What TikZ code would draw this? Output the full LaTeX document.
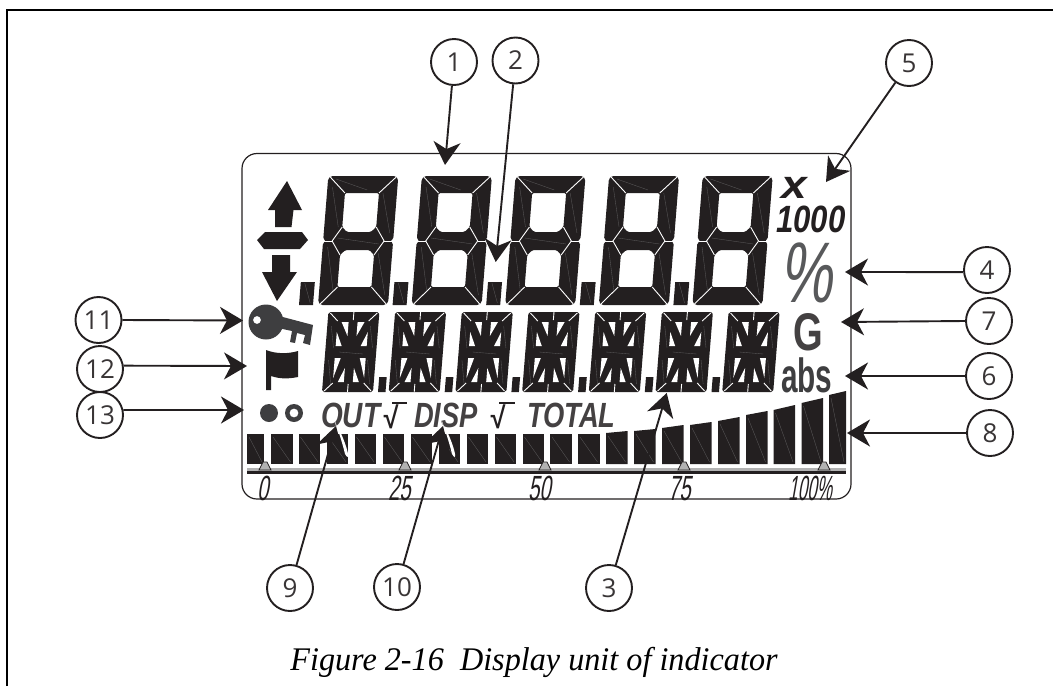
\documentclass[tikz,border=0pt]{standalone}
\usepackage{fontspec}
\usetikzlibrary{arrows.meta}
\setmainfont{Liberation Sans}
\newfontfamily\calloutfont{Open Sans}
\newfontfamily\captionfont{Liberation Serif}
\definecolor{lcdblack}{HTML}{231F20}
\definecolor{lcdgray}{HTML}{58595B}
\tikzset{
    callout/.style={draw=lcdblack, line width=1.9pt, circle, minimum size=46pt, inner sep=0pt,
        text=lcdblack!90, font=\calloutfont\fontsize{26}{26}\selectfont},
    pointer/.style={draw=lcdblack, line width=1.9pt,
        -{Stealth[length=23pt, width=27pt, inset=7pt]}},
    lcdlabel/.style={inner sep=0pt, anchor=base west, transform shape, text=lcdblack},
    scalelabel/.style={lcdlabel, xscale=.58, xslant=.3, font=\fontsize{35}{35}\selectfont},
    facet/.style={draw=gray!60!lcdblack, line width=.35pt},
    split/.style={draw=white, line width=.9pt}
}
\newcommand{\lcdDigit}[1]{%
    \begin{scope}[shift={(#1,305)}, xslant=.08]
    \fill[lcdblack, even odd rule, rounded corners=1.5pt]
        (3,-129) -- (67,-129) -- (70,-126) -- (70,-66) -- (67,-64) -- (70,-62) -- (70,-3) -- (67,0)
        -- (3,0) -- (0,-3) -- (0,-62) -- (3,-64) -- (0,-66) -- (0,-126) -- cycle
        (18,-112) -- (52,-112) -- (52,-78) -- (47,-73) -- (23,-73) -- (18,-78) -- cycle
        (18,-50) -- (23,-55) -- (47,-55) -- (52,-50) -- (52,-18) -- (18,-18) -- cycle;
    \draw[split] (2,-128) -- (18,-112);
    \draw[split] (68,-128) -- (52,-112);
    \draw[split] (2,-1) -- (18,-18);
    \draw[split] (68,-1) -- (52,-18);
    \draw[split] (18,-78) -- (9,-64) -- (18,-50);
    \draw[split] (52,-78) -- (61,-64) -- (52,-50);
    \draw[split] (0,-64) -- (9,-64);
    \draw[split] (61,-64) -- (70,-64);
    \draw[facet] (8,-126) -- (40,-115);
    \draw[facet] (5,-118) -- (14,-78);
    \draw[facet] (56,-112) -- (66,-72);
    \draw[facet] (14,-67) -- (56,-61);
    \draw[facet] (5,-58) -- (14,-14);
    \draw[facet] (56,-52) -- (66,-10);
    \fill[lcdblack] (-19,-23) rectangle (-5,0);
    \draw[facet] (-15,-22) -- (-8,-2);
    \end{scope}
}
\newcommand{\lcdChar}[1]{%
    \begin{scope}[shift={(#1,392)}, xslant=.08]
    \fill[lcdblack] (2,-80) -- (49,-80) -- (51,-78) -- (51,-2) -- (49,0) -- (2,0) -- (0,-2) -- (0,-78) -- cycle;
    \fill[white] (10,-60) -- (10,-46) -- (16,-46) -- cycle;
    \fill[white] (14,-70) -- (21,-70) -- (21,-56) -- cycle;
    \fill[white] (41,-60) -- (41,-46) -- (35,-46) -- cycle;
    \fill[white] (37,-70) -- (30,-70) -- (30,-56) -- cycle;
    \fill[white] (10,-34) -- (10,-14) -- (16,-34) -- cycle;
    \fill[white] (21,-24) -- (21,-10) -- (15,-10) -- cycle;
    \fill[white] (41,-34) -- (41,-14) -- (35,-34) -- cycle;
    \fill[white] (30,-24) -- (30,-10) -- (36,-10) -- cycle;
    \draw[split] (2,-79) -- (10,-71);
    \draw[split] (49,-79) -- (41,-71);
    \draw[split] (25.5,-80) -- (25.5,-72);
    \draw[split] (2,-1) -- (10,-9);
    \draw[split] (49,-1) -- (41,-9);
    \draw[split] (25.5,0) -- (25.5,-8);
    \draw[facet] (4,-66) -- (8,-44);
    \draw[facet] (43,-66) -- (47,-44);
    \draw[facet] (14,-40) -- (38,-38);
    \draw[facet] (4,-32) -- (8,-8);
    \draw[facet] (43,-32) -- (47,-8);
    \end{scope}
}
\newcommand{\lcdDot}[1]{%
    \begin{scope}[shift={(#1,392)}, xslant=.08]
    \fill[lcdblack] (0,-15) rectangle (7.5,0);
    \end{scope}
}
\newcommand{\lcdBar}[4]{%
    \fill[lcdblack] (#1,464) -- (#1,#3) -- (#1+#2,#4) -- (#1+#2,464) -- cycle;
    \draw[facet] (#1+2,#3+3) -- (#1+#2-2,462);
}
\newcommand{\lcdMark}[1]{%
    \filldraw[fill=gray!60, draw=lcdblack, line width=.8pt] (#1-6,470) -- (#1-2,462) -- (#1+2,462) -- (#1+6,470) -- cycle;
}
\newcommand{\tipGlint}[1]{%
    \fill[white] (#1) .. controls +(6,4) and +(9,14) .. +(9,28) .. controls +(-2,-10) and +(-5,-18) .. (#1);
}
\begin{document}
\begin{tikzpicture}[x=1pt, y=-1pt]
    \useasboundingbox (0,0) rectangle (1053,686);

    % --- page frame ---
    \draw[black, line width=2pt] (7,686) -- (7,10) -- (1053,10);

    % --- display outline ---
    \draw[lcdblack, line width=1.2pt, rounded corners=15pt] (242,153.5) rectangle (851,499);

    % --- big digits ---
    \lcdDigit{318}
    \lcdDigit{411.6}
    \lcdDigit{505.2}
    \lcdDigit{598.8}
    \lcdDigit{692.4}

    % --- alphanumeric row ---
    \lcdChar{322}
    \lcdChar{388.7}
    \lcdChar{455.4}
    \lcdChar{522.1}
    \lcdChar{588.8}
    \lcdChar{655.5}
    \lcdChar{722.2}
    \lcdDot{378}
    \lcdDot{444.7}
    \lcdDot{511.4}
    \lcdDot{578.1}
    \lcdDot{644.8}
    \lcdDot{711.5}

    % --- up, minus, down ---
    \fill[lcdblack] (287,181) -- (302,210) -- (293.5,210) -- (291.5,227) -- (275,227) -- (275,210) -- (268,210) -- cycle;
    \fill[lcdblack] (257,240) -- (265,232) -- (302,232) -- (308,240) -- (300,249) -- (264,249) -- cycle;
    \fill[lcdblack] (272,255) -- (290,255) -- (290,272) -- (297,272) -- (277,301) -- (262,272) -- (272,272) -- cycle;

    % --- key ---
    \fill[lcdgray!70!black, even odd rule] (266,322) circle (17.5) (257,320) circle (4);
    \fill[lcdgray!70!black] (279,316) -- (313,325) -- (310,345) -- (303,343) -- (305,335) -- (297,333) -- (295,343) -- (290,342) -- (292,331) -- (278,328) -- cycle;

    % --- flag ---
    \fill[lcdblack] (266,350) .. controls (276,354) and (288,354) .. (298,351) -- (298,377) .. controls (288,379) and (280,379) .. (271,376) -- (271,390) -- (266,390) -- cycle;

    % --- status dots ---
    \fill[lcdgray!70!black] (269,413) circle (9);
    \fill[lcdgray!70!black, even odd rule] (294,413) circle (9) (294,413) circle (4.5);

    % --- status words ---
    \node[lcdlabel, xscale=.8, text=lcdblack!85, font=\bfseries\itshape\fontsize{35}{35}\selectfont] (out) at (321,427) {OUT};
    \node[lcdlabel, xscale=.9, text=lcdblack, font=\bfseries\itshape\fontsize{30}{30}\selectfont] (rootA) at (382,428) {√};
    \draw[lcdblack, line width=2pt] (392,403) -- (407,403);
    \node[lcdlabel, xscale=.78, text=lcdblack!85, font=\bfseries\itshape\fontsize{35}{35}\selectfont] (disp) at (414,427) {DISP};
    \node[lcdlabel, xscale=.9, text=lcdblack, font=\bfseries\itshape\fontsize{30}{30}\selectfont] (rootB) at (489,428) {√};
    \draw[lcdblack, line width=2pt] (499,403) -- (515,403);
    \node[lcdlabel, xscale=.78, text=lcdblack!85, font=\bfseries\itshape\fontsize{35}{35}\selectfont] (total) at (527,427) {TOTAL};

    % --- multiplier and units ---
    \node[lcdlabel, xscale=1.15, font=\bfseries\itshape\fontsize{40}{40}\selectfont] (times) at (781,198) {x};
    \node[lcdlabel, xscale=.82, font=\bfseries\itshape\fontsize{38}{38}\selectfont] (kilo) at (776,232) {1000};
    \node[lcdlabel, xscale=.68, xslant=.2, text=lcdgray, font=\fontsize{86}{86}\selectfont] (percent) at (780,302) {\%};
    \node[lcdlabel, xscale=.72, text=lcdblack!85, font=\bfseries\fontsize{53}{53}\selectfont] (gauge) at (793,350) {G};
    \node[lcdlabel, xscale=.62, text=lcdgray!70!black, font=\bfseries\fontsize{48}{48}\selectfont] (abs) at (781,392) {abs};

    % --- bar graph ---
    \lcdBar{247}{17}{434}{434}
    \lcdBar{271}{21.5}{434}{434}
    \lcdBar{298.5}{21.5}{434}{434}
    \lcdBar{326.5}{21.5}{434}{434}
    \lcdBar{354.5}{21.5}{434}{434}
    \lcdBar{382.5}{21.5}{434}{434}
    \lcdBar{410.5}{21.5}{434}{434}
    \lcdBar{438.5}{21.5}{434}{434}
    \lcdBar{466.5}{21.5}{434}{434}
    \lcdBar{494.5}{21.5}{434}{434}
    \lcdBar{522.5}{21.5}{434}{434}
    \lcdBar{550}{21.5}{434}{434}
    \lcdBar{578}{21.5}{434}{434}
    \lcdBar{606}{21.5}{433}{431}
    \lcdBar{634}{21.5}{431}{429}
    \lcdBar{662}{21.5}{428}{425}
    \lcdBar{690}{21.5}{425}{422}
    \lcdBar{718}{21.5}{421}{417}
    \lcdBar{746}{21.5}{415}{411}
    \lcdBar{773.5}{21.5}{410}{405}
    \lcdBar{801.5}{21.5}{403}{398}
    \lcdBar{829}{17}{395}{391}

    % --- scale ---
    \fill[gray!60] (247,468) rectangle (846,471);
    \fill[lcdblack] (247,471) rectangle (846,473.5);
    \lcdMark{265}
    \lcdMark{405}
    \lcdMark{545}
    \lcdMark{684}
    \lcdMark{824}
    \node[scalelabel] (zero) at (257,500) {0};
    \node[scalelabel] (quarter) at (388,500) {25};
    \node[scalelabel] (half) at (528,500) {50};
    \node[scalelabel] (threeq) at (668,500) {75};
    \node[scalelabel, xscale=.84] (full) at (788,500) {100\%};

    % --- callouts ---
    \node[callout] (c1) at (454,62) {1};
    \node[callout] (c2) at (515.5,60.5) {2};
    \node[callout] (c3) at (609,588) {3};
    \node[callout] (c4) at (987,270) {4};
    \node[callout] (c5) at (909,63) {5};
    \node[callout] (c6) at (989,376) {6};
    \node[callout] (c7) at (989,321) {7};
    \node[callout] (c8) at (990,433) {8};
    \node[callout] (c9) at (290,588) {9};
    \node[callout] (c10) at (397,587) {10};
    \node[callout] (c11) at (98.5,320) {11};
    \node[callout] (c12) at (100,369) {12};
    \node[callout] (c13) at (100,415) {13};

    \coordinate (t1) at (445,165);
    \coordinate (t2) at (495.7,262);
    \coordinate (t3) at (666.7,393);
    \coordinate (t4) at (845,272);
    \coordinate (t5) at (826,182);
    \coordinate (t6) at (845,376);
    \coordinate (t7) at (841,322);
    \coordinate (t8) at (847,433);
    \coordinate (t9) at (336,426);
    \coordinate (t10) at (443,426);
    \coordinate (t11) at (243,320.5);
    \coordinate (t12) at (247,366);
    \coordinate (t13) at (244,410);

    \tipGlint{t9}
    \tipGlint{t10}

    \draw[pointer] (c1) -- (t1);
    \draw[pointer] (c2) -- (t2);
    \draw[pointer] (c3) -- (t3);
    \draw[pointer] (c4.185) -- (t4);
    \draw[pointer] (c5) -- (t5);
    \draw[pointer] (c6.west) -- (t6);
    \draw[pointer] (c7.west) -- (t7);
    \draw[pointer] (c8.west) -- (t8);
    \draw[pointer] (c9) -- (t9);
    \draw[pointer] (c10) -- (t10);
    \draw[pointer] (c11.east) -- (t11);
    \draw[pointer] (c12.8) -- (t12);
    \draw[pointer] (c13.12) -- (t13);

    % --- caption ---
    \node[inner sep=0pt, anchor=base, xscale=.976, transform shape, font=\captionfont\itshape\fontsize{33}{33}\selectfont] (caption) at (534,670) {Figure 2-16\ \ Display unit of indicator};
\end{tikzpicture}
\end{document}
